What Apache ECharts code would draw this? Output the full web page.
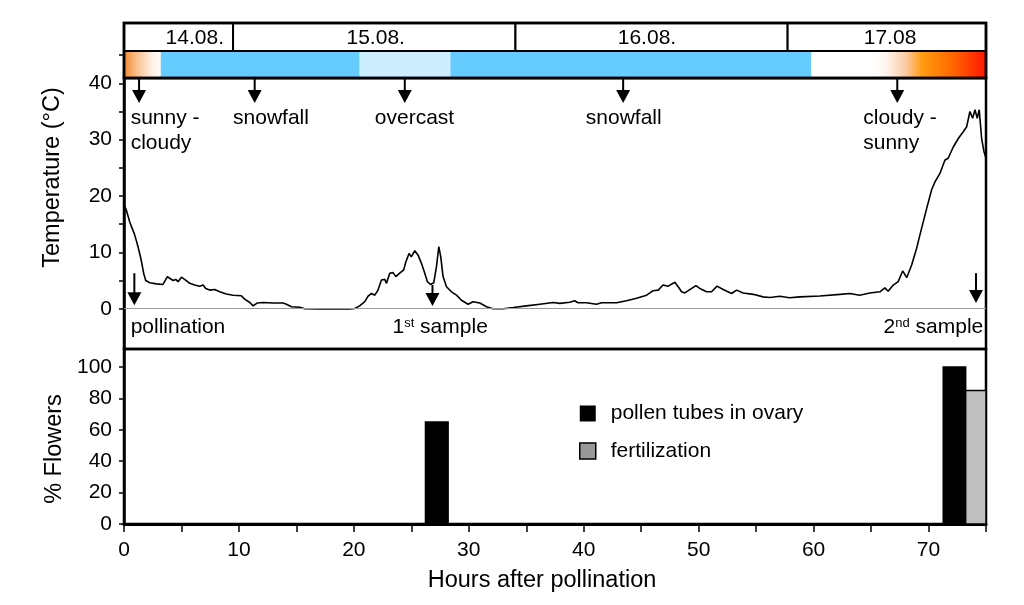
<!DOCTYPE html>
<html><head><meta charset="utf-8">
<script src="https://cdn.jsdelivr.net/npm/echarts@6/dist/echarts.min.js"></script>
<style>html,body{margin:0;padding:0;background:#fff}#c{width:1024px;height:605px}</style>
</head><body><div id="c"></div><script>
const FONT = "'Liberation Sans', Arial, Helvetica, sans-serif";

// ---- data ----
const hours = [0,0.2,0.5,0.93,1.22,1.5,1.71,1.89,2.24,2.82,3.39,3.54,3.78,3.98,4.27,4.5,4.7,5.0,5.28,5.72,6.15,6.59,6.88,7.11,7.46,7.89,8.33,8.91,9.49,10.2,10.5,10.94,11.23,11.37,11.58,12.1,12.97,13.84,14.13,14.57,15.29,15.73,17.0,19.6,20.08,20.5,20.95,21.24,21.53,21.82,22.1,22.4,22.69,22.84,23.12,23.41,23.65,23.99,24.34,24.52,24.8,25.0,25.3,25.59,25.88,26.17,26.4,26.67,26.95,27.19,27.39,27.56,27.76,28.06,28.49,28.93,29.36,29.94,30.37,30.96,31.54,32.11,32.98,33.86,35.02,36.18,37.34,37.92,38.79,39.2,39.5,40.24,41.1,41.55,42.86,43.72,44.6,45.47,46.04,46.48,46.9,47.35,47.93,48.22,48.51,48.8,49.23,49.76,50.1,50.69,51.12,51.6,52.13,52.86,53.3,53.87,54.74,55.6,56.2,57.07,57.9,58.8,60.55,62.3,63.16,64.0,64.9,65.77,66.2,66.49,66.93,67.36,67.75,68.1,68.53,68.96,69.4,69.84,70.27,70.56,70.99,71.43,71.71,72.15,72.59,73.02,73.32,73.6,73.84,74.04,74.24,74.41,74.62,74.82,75];
const temps = [18.5,17.5,15.4,13.1,11.0,8.6,6.3,5.0,4.6,4.4,4.3,4.5,5.7,5.4,5.0,5.2,4.8,5.6,5.2,4.5,4.2,4.0,4.2,3.6,3.3,3.4,3.0,2.6,2.4,2.3,1.7,1.1,0.5,0.3,1.0,1.1,1.0,1.0,0.8,0.35,0.25,0.0,-0.05,-0.05,0.05,0.5,1.25,2.25,2.7,2.4,3.3,5.1,5.2,4.5,6.3,6.4,5.7,6.3,6.9,8.3,9.8,9.2,10.3,9.5,8.05,6.3,4.8,4.3,4.6,7.5,11.0,9.2,5.7,3.9,3.0,2.4,1.5,0.8,1.25,1.0,0.35,0,0,0.2,0.5,0.8,1.1,0.95,1.15,1.4,1.05,1.05,0.8,1.05,1.05,1.4,1.85,2.4,3.2,3.3,4.2,4.0,4.7,3.9,3.0,2.8,3.4,4.1,3.6,3.0,3.0,4.0,3.4,2.7,3.3,2.8,2.55,2.1,2.0,2.2,1.95,2.1,2.25,2.55,2.7,2.4,2.8,3.0,3.7,3.1,4.2,4.8,6.7,5.5,7.75,10.7,14.3,17.8,21.1,22.5,24.0,26.4,26.7,28.7,30.2,31.4,32.3,35.0,33.8,35.3,33.8,35.3,30.2,27.9,26.7];

const dayLabels = ['14.08.', '15.08.', '16.08.', '17.08'];
const dayStart = [0, 9.49, 34.06, 57.74];
const dayEnd = [9.49, 34.06, 57.74, 75];
const dayLabelHour = [6.16, 21.9, 45.5, 66.65];

const weatherStart = [0, 3.2, 20.5, 28.4, 59.8, 65.1];
const weatherEnd = [3.2, 20.5, 28.4, 59.8, 65.1, 75];
const weatherType = ['sunnyToCloudy', 'snow', 'overcast', 'snow', 'cloudy', 'cloudyToSunny'];

const eventLabels = ['sunny -\ncloudy', 'snowfall', 'overcast', 'snowfall', 'cloudy -\nsunny'];
const eventHours = [1.31, 11.37, 24.43, 43.43, 67.28];
const eventTextHours = [0.58, 9.49, 21.82, 40.18, 64.32];

const sampleLabels = ['pollination', '1{sup|st} sample', '2{sup|nd} sample'];
const sampleHours = [0.9, 26.84, 74.13];
const sampleArrowFrom = [6.3, 4.2, 6.3];
const sampleArrowTo = [0.6, 0.5, 1.0];
const sampleTextHours = [0.58, 23.36, 74.76];

const pollenStart = [26.23, 71.28], pollenEnd = [28.2, 73.23], pollenPct = [65, 100];
const fertStart = [73.23], fertEnd = [75], fertPct = [85];

const hourLabels = [0, 10, 20, 30, 40, 50, 60, 70];
const tempTicks = [0, 5, 10, 15, 20, 25, 30, 35, 40];
const tempLabels = [0, 10, 20, 30, 40];
const flowerTicks = [0, 20, 40, 60, 80, 100];

// ---- styles / layout ----
const TMIN = -7.15, TMAX = 40.94, TTOP = 50.7;
const EVENT_ARROW_END = 36.5, EVENT_TEXT_TOP = 35.95, SAMPLE_TEXT_Y = -3.3;
const weatherFill = {
  snow: '#66ccff',
  overcast: '#cceeff',
  cloudy: '#ffffff',
  sunnyToCloudy: [[0, '#f28a2e'], [0.35, '#f9c08f'], [0.8, '#fff4ea'], [1, '#fffaf5']],
  cloudyToSunny: [[0, '#ffffff'], [0.12, '#fff6ee'], [0.3, '#fbc9a0'], [0.44, '#ff9a10'], [0.7, '#ff6a00'], [1, '#ff1500']]
};
const L = 124, R = 38;

const chart = echarts.init(document.getElementById('c'));
const txt = { color: '#000', fontFamily: FONT, fontSize: 21 };

function arrow(x, y0, y1, api) {
  const a = api.coord([x, y0]), b = api.coord([x, y1]);
  const head = 13, hw = 7;
  return {
    type: 'group', children: [
      { type: 'line', shape: { x1: a[0], y1: a[1], x2: b[0], y2: b[1] - head + 1 }, style: { stroke: '#000', lineWidth: 2 } },
      { type: 'polygon', shape: { points: [[b[0] - hw, b[1] - head], [b[0] + hw, b[1] - head], [b[0], b[1]]] }, style: { fill: '#000' } }
    ]
  };
}

const option = {
  animation: false,
  backgroundColor: '#fff',
  textStyle: { fontFamily: FONT },
  grid: [
    { left: L, right: R, top: 23, height: 55, show: true, borderColor: '#000', borderWidth: 2.5, z: 5 },
    { left: L, right: R, top: 78, height: 271, show: true, borderColor: '#000', borderWidth: 2.5 },
    { left: L, right: R, top: 349, height: 175, show: true, borderColor: '#000', borderWidth: 2.5 }
  ],
  legend: {
    orient: 'vertical', left: 579, top: 403, itemWidth: 16, itemHeight: 16, itemGap: 16.5, padding: 0,
    selectedMode: false,
    textStyle: { color: '#000', fontFamily: FONT, fontSize: 21, padding: [0, 0, 0, 10] },
    data: [
      { name: 'pollen tubes in ovary', icon: 'rect', itemStyle: { color: '#000', borderWidth: 0 } },
      { name: 'fertilization', icon: 'rect', itemStyle: { color: '#999', borderColor: '#000', borderWidth: 1.5 } }
    ]
  },
  xAxis: [
    { gridIndex: 0, type: 'value', min: 0, max: 75, show: false },
    { gridIndex: 1, type: 'value', min: 0, max: 75, show: false },
    {
      gridIndex: 2, type: 'value', min: 0, max: 75, interval: 5,
      name: 'Hours after pollination', nameLocation: 'middle', nameGap: 45,
      nameTextStyle: { color: '#000', fontFamily: FONT, fontSize: 23.5, padding: [0, 26, 0, 0] },
      axisLine: { lineStyle: { color: '#000', width: 3 } },
      axisTick: { length: 8, lineStyle: { color: '#000', width: 1.5 } },
      axisLabel: Object.assign({ margin: 16, formatter: v => hourLabels.includes(v) ? String(v) : '' }, txt),
      splitLine: { show: false }
    }
  ],
  yAxis: [
    {
      gridIndex: 0, type: 'value', min: TMAX, max: TTOP,
      axisLine: { show: false }, axisLabel: { show: false }, splitLine: { show: false },
      axisTick: { show: true, customValues: [45], length: 5, lineStyle: { color: '#000', width: 1.5 } }
    },
    {
      gridIndex: 1, type: 'value', min: TMIN, max: TMAX,
      name: 'Temperature (°C)', nameLocation: 'middle', nameGap: 59,
      nameTextStyle: { color: '#000', fontFamily: FONT, fontSize: 23.5, padding: [0, 0, 0, 72] },
      axisLine: { show: true, lineStyle: { color: '#000', width: 2.5 } },
      axisTick: { show: true, customValues: tempTicks, length: 5, lineStyle: { color: '#000', width: 1.5 } },
      axisLabel: Object.assign({ customValues: tempLabels, margin: 12, padding: [3, 0, 0, 0] }, txt),
      splitLine: { show: false }
    },
    {
      gridIndex: 2, type: 'value', min: 0, max: 111.46,
      name: '% Flowers', nameLocation: 'middle', nameGap: 57,
      nameTextStyle: { color: '#000', fontFamily: FONT, fontSize: 23.5, padding: [0, 25, 0, 0] },
      axisLine: { show: true, lineStyle: { color: '#000', width: 2.5 } },
      axisTick: { show: true, customValues: flowerTicks, length: 5, lineStyle: { color: '#000', width: 1.5 } },
      axisLabel: Object.assign({ customValues: flowerTicks, margin: 12 }, txt),
      splitLine: { show: false }
    }
  ],
  series: [
    // weather colour band
    {
      type: 'custom', xAxisIndex: 0, yAxisIndex: 0, silent: true, z: 2,
      data: weatherStart.map((s, i) => [s, weatherEnd[i], i]),
      renderItem(params, api) {
        const cs = params.coordSys;
        const x0 = api.coord([api.value(0), TMAX])[0], x1 = api.coord([api.value(1), TMAX])[0];
        const yTop = cs.y + cs.height * 0.51, yBot = cs.y + cs.height;
        const f = weatherFill[weatherType[api.value(2)]];
        const fill = typeof f === 'string' ? f :
          new echarts.graphic.LinearGradient(0, 0, 1, 0, f.map(([o, c]) => ({ offset: o, color: c })));
        return { type: 'rect', shape: { x: x0, y: yTop, width: x1 - x0, height: yBot - yTop }, style: { fill } };
      }
    },
    // day boxes
    {
      type: 'custom', xAxisIndex: 0, yAxisIndex: 0, silent: true, z: 3,
      data: dayStart.map((s, i) => [s, dayEnd[i], dayLabelHour[i], i]),
      renderItem(params, api) {
        const cs = params.coordSys;
        const x0 = api.coord([api.value(0), TMAX])[0], x1 = api.coord([api.value(1), TMAX])[0];
        const xl = api.coord([api.value(2), TMAX])[0];
        const yTop = cs.y, yBot = cs.y + cs.height * 0.51;
        return {
          type: 'group', children: [
            { type: 'rect', shape: { x: x0, y: yTop, width: x1 - x0, height: yBot - yTop }, style: { fill: '#fff', stroke: '#000', lineWidth: 2 } },
            { type: 'text', style: { text: dayLabels[api.value(3)], x: xl, y: (yTop + yBot) / 2 + 1, align: 'center', verticalAlign: 'middle', fontSize: 21, fontFamily: FONT, fill: '#000' } }
          ]
        };
      }
    },
    // band frame
    {
      type: 'custom', xAxisIndex: 0, yAxisIndex: 0, silent: true, z: 4,
      data: [[0, 75]],
      renderItem(params, api) {
        const cs = params.coordSys;
        return { type: 'rect', shape: { x: cs.x, y: cs.y, width: cs.width, height: cs.height }, style: { fill: 'none', stroke: '#000', lineWidth: 2.5 } };
      }
    },
    // temperature
    {
      name: 'Temperature', type: 'line', xAxisIndex: 1, yAxisIndex: 1,
      data: hours.map((h, i) => [h, temps[i]]),
      showSymbol: false, symbol: 'none', smooth: false,
      lineStyle: { color: '#000', width: 1.6 }, z: 3,
      markLine: {
        silent: true, symbol: 'none', label: { show: false },
        lineStyle: { color: '#999', width: 1.2, type: 'solid' },
        data: [{ yAxis: 0 }]
      }
    },
    // weather event arrows + text
    {
      type: 'custom', xAxisIndex: 1, yAxisIndex: 1, silent: true, z: 4,
      data: eventHours.map((h, i) => [h, eventTextHours[i], i]),
      renderItem(params, api) {
        const g = arrow(api.value(0), TMAX, EVENT_ARROW_END, api);
        const p = api.coord([api.value(1), EVENT_TEXT_TOP]);
        g.children.push({ type: 'text', style: { text: eventLabels[api.value(2)], x: p[0], y: p[1], align: 'left', verticalAlign: 'top', lineHeight: 25, fontSize: 21, fontFamily: FONT, fill: '#000' } });
        return g;
      }
    },
    // sample arrows + text
    {
      type: 'custom', xAxisIndex: 1, yAxisIndex: 1, silent: true, z: 4,
      data: sampleHours.map((h, i) => [h, sampleArrowFrom[i], sampleArrowTo[i], sampleTextHours[i], i]),
      renderItem(params, api) {
        const i = api.value(4);
        const g = arrow(api.value(0), api.value(1), api.value(2), api);
        const p = api.coord([api.value(3), SAMPLE_TEXT_Y]);
        g.children.push({
          type: 'text', style: {
            text: sampleLabels[i], x: p[0], y: p[1], align: i === 2 ? 'right' : 'left', verticalAlign: 'middle',
            fontSize: 21, fontFamily: FONT, fill: '#000',
            rich: { sup: { fontSize: 13, fontFamily: FONT, verticalAlign: 'top', lineHeight: 13, fill: '#000' } }
          }
        });
        return g;
      }
    },
    // bars
    {
      name: 'pollen tubes in ovary', type: 'custom', xAxisIndex: 2, yAxisIndex: 2, z: 3,
      itemStyle: { color: '#000' },
      data: pollenStart.map((s, i) => [s, pollenEnd[i], pollenPct[i]]),
      renderItem(params, api) {
        const a = api.coord([api.value(0), api.value(2)]), b = api.coord([api.value(1), 0]);
        return { type: 'rect', shape: { x: a[0], y: a[1], width: b[0] - a[0], height: b[1] - a[1] }, style: { fill: '#000', stroke: '#000', lineWidth: 1.5 } };
      }
    },
    {
      name: 'fertilization', type: 'custom', xAxisIndex: 2, yAxisIndex: 2, z: 3,
      itemStyle: { color: '#999' },
      data: fertStart.map((s, i) => [s, fertEnd[i], fertPct[i]]),
      renderItem(params, api) {
        const a = api.coord([api.value(0), api.value(2)]), b = api.coord([api.value(1), 0]);
        return { type: 'rect', shape: { x: a[0], y: a[1], width: b[0] - a[0], height: b[1] - a[1] }, style: { fill: '#c0c0c0', stroke: '#000', lineWidth: 1.5 } };
      }
    }
  ]
};
chart.setOption(option);
</script></body></html>
